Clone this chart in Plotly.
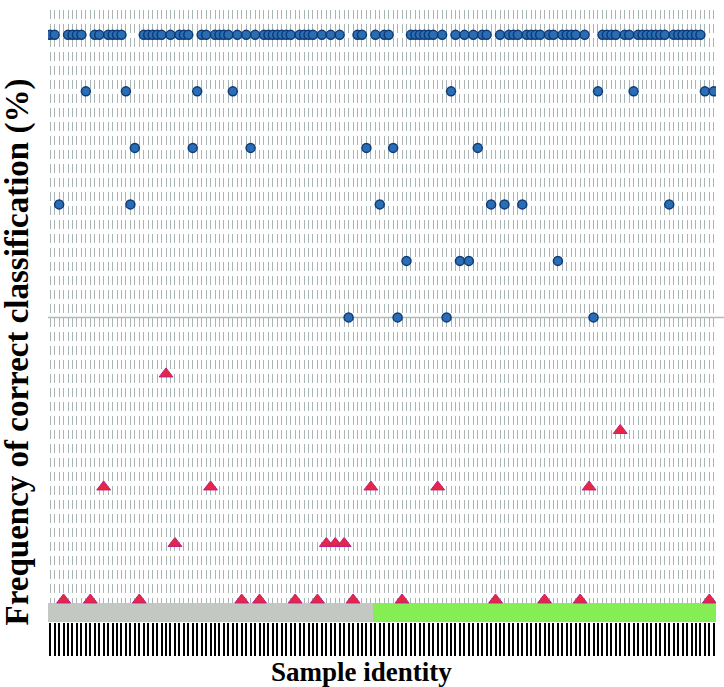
import plotly.graph_objects as go

# ---- data ----
samples = list(range(1, 151))

# frequency of correct classification (%) per sample, samples 1..150
freq = [
    100, 100, 70, 0, 100, 100, 100, 100, 90, 0,        # 1-10
    100, 100, 20, 100, 100, 100, 100, 90, 70, 80,      # 11-20
    0, 100, 100, 100, 100, 100, 40, 100, 10, 100,      # 21-30
    100, 100, 80, 90, 100, 100, 20, 100, 100, 100,     # 31-40
    100, 90, 100, 0, 100, 80, 100, 0, 100, 100,        # 41-50
    100, 100, 100, 100, 100, 0, 100, 100, 100, 100,    # 51-60
    0, 100, 10, 100, 10, 100, 10, 50, 0, 100,          # 61-70
    100, 80, 20, 100, 70, 100, 100, 80, 50, 0,         # 71-80
    60, 100, 100, 100, 100, 100, 100, 20, 100, 50,     # 81-90
    90, 100, 60, 100, 60, 100, 80, 100, 100, 70,       # 91-100
    0, 100, 70, 100, 100, 100, 70, 100, 100, 100,      # 101-110
    100, 0, 100, 100, 60, 100, 100, 100, 100, 0,       # 111-120
    100, 20, 50, 90, 100, 100, 100, 100, 30, 100,      # 121-130
    100, 90, 100, 100, 100, 100, 100, 100, 100, 70,    # 131-140
    100, 100, 100, 100, 100, 100, 100, 90, 0, 90,      # 141-150
]

# sample groups shown as the coloured band under the plot
group_sizes = [73, 77]
group_colors = ["#c4c8c2", "#86ee55"]

threshold = 50  # horizontal reference line (%)

# ---- build ----
band_color = []
for size, col in zip(group_sizes, group_colors):
    band_color += [col] * size

hi_x = [s for s, f in zip(samples, freq) if f >= threshold]
hi_y = [f for f in freq if f >= threshold]
lo_x = [s for s, f in zip(samples, freq) if f < threshold]
lo_y = [f for f in freq if f < threshold]

fig = go.Figure()

fig.add_trace(go.Bar(
    x=samples, y=[3.35] * len(samples), base=-3.9,
    marker=dict(color=band_color, line=dict(width=0)),
    width=1, hoverinfo="skip",
))

fig.add_trace(go.Scatter(
    x=hi_x, y=hi_y, mode="markers",
    marker=dict(symbol="circle", size=9, color="#2b6db2",
                line=dict(color="#0c3b78", width=1.5)),
))

fig.add_trace(go.Scatter(
    x=lo_x, y=lo_y, mode="markers",
    marker=dict(symbol="triangle-up", size=12, color="#e8263f",
                line=dict(color="#b81f8c", width=1)),
))

fig.add_shape(type="line", xref="paper", yref="y", x0=0, x1=1.012,
              y0=threshold, y1=threshold,
              line=dict(color="#b3bcbc", width=1.5), layer="below")

fig.update_layout(
    width=724, height=687,
    margin=dict(l=48, r=8, t=10, b=65, autoexpand=False),
    plot_bgcolor="white", paper_bgcolor="white",
    showlegend=False, bargap=0,
    xaxis=dict(range=[0.5, 150.5], tickmode="linear", tick0=1, dtick=1,
               ticks="outside", ticklen=33, tickwidth=2.2, tickcolor="black",
               showticklabels=False, showgrid=True, gridcolor="#a9b4b4",
               gridwidth=1.2, griddash="9px,5px", zeroline=False, showline=False,
               automargin=False),
    yaxis=dict(range=[-3.9, 104.4], showgrid=False, showticklabels=False,
               zeroline=False, ticks="", showline=False, automargin=False),
    annotations=[
        dict(text="<b>Frequency of correct classification (%)</b>",
             xref="paper", yref="paper", x=-0.046, y=0.441,
             xanchor="center", yanchor="middle", textangle=-90, showarrow=False,
             font=dict(family="Liberation Serif", size=33, color="black")),
        dict(text="<b>Sample identity</b>",
             xref="paper", yref="paper", x=0.4686, y=-0.0817,
             xanchor="center", yanchor="middle", showarrow=False,
             font=dict(family="Liberation Serif", size=27, color="black")),
    ],
)

fig.write_html(
    "out.html",
    config={"displayModeBar": False},
    post_script="document.body.style.margin='0';document.body.style.padding='0';",
)
